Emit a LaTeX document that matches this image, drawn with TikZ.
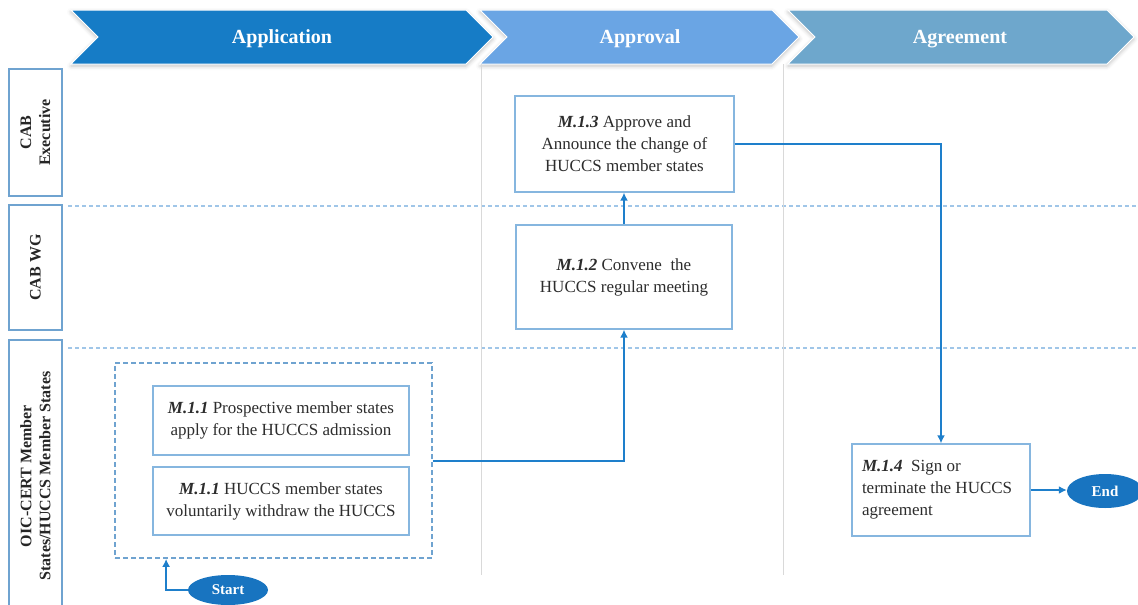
\documentclass[tikz,border=0pt]{standalone}
\usepackage{fontspec}
\setmainfont{Liberation Serif}
\usepackage{tikz}
\usetikzlibrary{shapes.geometric, arrows.meta, positioning, shadows.blur}
\definecolor{appblue}{RGB}{22,124,198}
\definecolor{aprblue}{RGB}{106,165,228}
\definecolor{agrblue}{RGB}{110,167,204}
\definecolor{flowblue}{RGB}{30,127,203}
\definecolor{boxline}{RGB}{134,182,223}
\definecolor{laneline}{RGB}{111,163,208}
\definecolor{sepblue}{RGB}{160,198,232}
\definecolor{termblue}{RGB}{24,116,192}
\definecolor{textgray}{RGB}{45,45,45}
\tikzset{
    task/.style={rectangle, draw=boxline, line width=1.3pt, fill=white, text=textgray, align=center, font=\fontsize{17}{22}\selectfont},
    lane/.style={rectangle, draw=laneline, line width=2pt, rotate=90, align=center, text=black!85, font=\fontsize{16}{19}\selectfont\bfseries},
    terminal/.style={ellipse, fill=termblue, text=white, inner sep=0pt, font=\fontsize{15}{18}\selectfont\bfseries},
    arrow/.style={line width=2pt, draw=flowblue, -{Latex[length=8pt,width=8pt]}},
}
\begin{document}
\begin{tikzpicture}[x=1pt, y=-1pt,
      chevron/.style={draw=white, line width=1pt, blur shadow={shadow xshift=0pt, shadow yshift=-2pt, shadow blur radius=4pt, shadow opacity=25}},
      head/.style={text=white, font=\fontsize{20}{24}\selectfont\bfseries},
      sep/.style={draw=sepblue, line width=1.2pt, dash pattern=on 4pt off 3pt},
      divider/.style={draw=black!15, line width=1pt},
      group/.style={draw=laneline, line width=1.8pt, dash pattern=on 5pt off 3pt}
    ]
    \useasboundingbox (0,0) rectangle (1138,605);
    \path[chevron, fill=agrblue] (788,10) -- (1107,10) -- (1134,37) -- (1107,64) -- (788,64) -- (815,37) -- cycle;
    \path[chevron, fill=aprblue] (480,10) -- (772,10) -- (799,37) -- (772,64) -- (480,64) -- (507,37) -- cycle;
    \path[chevron, fill=appblue] (71,10) -- (466,10) -- (493,37) -- (466,64) -- (71,64) -- (98,37) -- cycle;
    \node[head] (hApp) at (282,39) {Application};
    \node[head] (hApr) at (640,39) {Approval};
    \node[head] (hAgr) at (960,39) {Agreement};

    \draw[sep] (68,206) -- (1138,206);
    \draw[sep] (68,348) -- (1138,348);
    \draw[divider] (481,64) -- (481,575);
    \draw[divider] (783,64) -- (783,575);

    \node[lane, minimum width=127pt, minimum height=53pt] (exec) at (35.5,132.5) {CAB\\Executive};
    \node[lane, minimum width=125pt, minimum height=53pt] (wg) at (35.5,267.5) {CAB WG};
    \node[lane, minimum width=272pt, minimum height=53pt] (states) at (35.5,476) {OIC-CERT Member\\States/HUCCS Member States};

    \node[group, minimum width=317pt, minimum height=195pt] (grp) at (273.5,460.5) {};
    \node[task, minimum width=256pt, minimum height=69pt] (m11a) at (281,420.5) {\textbf{\textit{M.1.1}} Prospective member states\\apply for the HUCCS admission};
    \node[task, minimum width=256pt, minimum height=68pt] (m11b) at (281,501) {\textbf{\textit{M.1.1}} HUCCS member states\\voluntarily withdraw the HUCCS};
    \node[task, minimum width=216pt, minimum height=104pt] (m12) at (624,277) {\textbf{\textit{M.1.2}} Convene~ the\\HUCCS regular meeting};
    \node[task, minimum width=219pt, minimum height=96pt] (m13) at (624.5,144) {\textbf{\textit{M.1.3}} Approve and\\Announce the change of\\HUCCS member states};
    \node[task, minimum width=178pt, minimum height=92pt, text width=158pt, inner xsep=10pt, align=flush left] (m14) at (941,490) {\textbf{\textit{M.1.4}}~ Sign or\\terminate the HUCCS\\agreement};

    \node[terminal, minimum width=80pt, minimum height=30pt] (start) at (228,590) {Start};
    \node[terminal, minimum width=76pt, minimum height=34pt] (end) at (1105,491) {End};

    \draw[arrow] (start.west) -| ([xshift=52pt]grp.south west);
    \draw[arrow] (grp.east) -| (m12.south);
    \draw[arrow] (m12.north) -- (m12.north |- m13.south);
    \draw[arrow] (m13.east) -| (m14.north);
    \draw[arrow] (m14.east) -- (end.west |- m14.east);
\end{tikzpicture}
\end{document}
